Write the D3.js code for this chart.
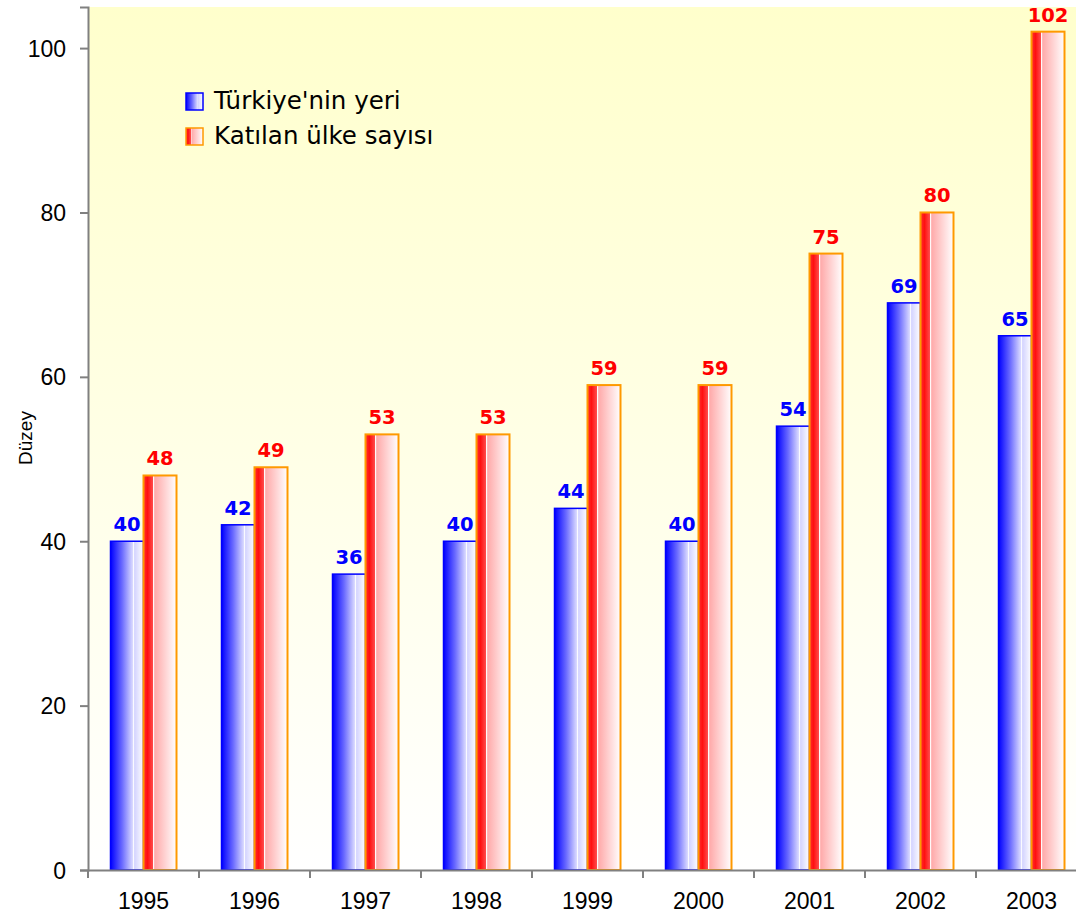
<!DOCTYPE html>
<html>
<head>
<meta charset="utf-8">
<script src="https://cdn.jsdelivr.net/npm/d3@7"></script>
<style>
  body { margin: 0; background: #fff; }
  svg { display: block; }
</style>
</head>
<body>
<div id="app"></div>
<script>
const years = ['1995', '1996', '1997', '1998', '1999', '2000', '2001', '2002', '2003'];
const turkeyRank = [40, 42, 36, 40, 44, 40, 54, 69, 65];
const countryCount = [48, 49, 53, 53, 59, 59, 75, 80, 102];
const seriesNames = ["Türkiye'nin yeri", 'Katılan ülke sayısı'];
const yTicks = [0, 20, 40, 60, 80, 100];

const width = 1076;
const height = 914;
const margin = { top: 7, left: 88, bottom: 44 };
const plotRight = 1087;

const svg = d3.select('#app').append('svg')
  .attr('width', width)
  .attr('height', height);

const defs = svg.append('defs');

const bg = defs.append('linearGradient')
  .attr('id', 'bg').attr('x1', 0).attr('y1', 0).attr('x2', 0).attr('y2', 1);
bg.append('stop').attr('offset', 0).attr('stop-color', '#ffffcc');
bg.append('stop').attr('offset', 1).attr('stop-color', '#ffffff');

const addBarGradient = (id, stops) => {
  const g = defs.append('linearGradient')
    .attr('id', id).attr('x1', 0).attr('y1', 0).attr('x2', 1).attr('y2', 0);
  stops.forEach(([o, c]) => g.append('stop').attr('offset', o).attr('stop-color', c));
};

addBarGradient('blueFill', [
  [0, '#0000ff'], [0.35, '#6a6aff'], [0.68, '#dcdcff'],
  [0.70, '#ffffff'], [0.73, '#d4d4ff'], [1, '#ffffff']
]);
addBarGradient('redFill', [
  [0, '#ff3030'], [0.12, '#ff1010'], [0.28, '#ff4a4a'],
  [0.30, '#ffffff'], [0.34, '#ffaaaa'], [1, '#ffffff']
]);

const y = d3.scaleLinear()
  .domain([0, 105])
  .range([height - margin.bottom, margin.top]);

const x = d3.scaleBand()
  .domain(years)
  .range([margin.left, plotRight]);

const barW = 33;

// plot area background
svg.append('rect')
  .attr('x', margin.left)
  .attr('y', margin.top)
  .attr('width', plotRight - margin.left)
  .attr('height', y(0) - margin.top)
  .attr('fill', 'url(#bg)');

const rows = years.map((yr, i) => ({ yr, a: turkeyRank[i], b: countryCount[i] }));

const groups = svg.append('g').selectAll('g')
  .data(rows)
  .enter().append('g')
  .attr('transform', d => `translate(${x(d.yr) + x.bandwidth() / 2},0)`);

groups.append('rect')
  .attr('x', -barW)
  .attr('y', d => y(d.a))
  .attr('width', barW)
  .attr('height', d => y(0) - y(d.a))
  .attr('fill', 'url(#blueFill)')
  .attr('stroke', '#0000ff')
  .attr('stroke-width', 1.5);

groups.append('rect')
  .attr('x', 0)
  .attr('y', d => y(d.b))
  .attr('width', barW)
  .attr('height', d => y(0) - y(d.b))
  .attr('fill', 'url(#redFill)')
  .attr('stroke', '#ff9900')
  .attr('stroke-width', 2);

const labelFont = 'DejaVu Sans, Verdana, sans-serif';

groups.append('text')
  .attr('x', -barW / 2)
  .attr('y', d => y(d.a) - 10)
  .attr('text-anchor', 'middle')
  .attr('font-family', labelFont)
  .attr('font-weight', 'bold')
  .attr('font-size', 19.5)
  .attr('fill', '#0000ff')
  .text(d => d.a);

groups.append('text')
  .attr('x', barW / 2)
  .attr('y', d => y(d.b) - 10)
  .attr('text-anchor', 'middle')
  .attr('font-family', labelFont)
  .attr('font-weight', 'bold')
  .attr('font-size', 19.5)
  .attr('fill', '#ff0000')
  .text(d => d.b);

// axes
const axisColor = '#808080';
const axisFont = 'Liberation Sans, Arial, sans-serif';

const yAxis = svg.append('g')
  .attr('transform', `translate(${margin.left},0)`)
  .call(d3.axisLeft(y).tickValues(yTicks).tickSize(8).tickPadding(14));

const xAxis = svg.append('g')
  .attr('transform', `translate(0,${y(0)})`)
  .call(d3.axisBottom(x).tickSize(0).tickPadding(23));

xAxis.selectAll('.tick line').remove();
xAxis.selectAll('.tick')
  .data(years)
  .append('line')
  .attr('x1', -x.bandwidth() / 2).attr('x2', -x.bandwidth() / 2)
  .attr('y1', 0).attr('y2', 8);

[yAxis, xAxis].forEach(ax => {
  ax.attr('font-size', null).attr('font-family', null);
  ax.select('.domain').attr('stroke', axisColor).attr('stroke-width', 2);
  ax.selectAll('.tick line').attr('stroke', axisColor).attr('stroke-width', 2);
  ax.selectAll('.tick text')
    .style('font-family', axisFont)
    .style('font-size', '23px')
    .attr('fill', '#000');
});
yAxis.selectAll('.tick text').attr('dy', '0.35em');

svg.append('text')
  .attr('transform', `translate(32,438) rotate(-90)`)
  .attr('text-anchor', 'middle')
  .style('font-family', axisFont)
  .style('font-size', '19px')
  .text('Düzey');

// legend
const legend = svg.append('g').attr('transform', 'translate(186,93)');
const legendFills = [['url(#blueFill)', '#0000ff'], ['url(#redFill)', '#ff9900']];

seriesNames.forEach((name, i) => {
  const row = legend.append('g').attr('transform', `translate(0,${i * 35})`);
  row.append('rect')
    .attr('width', 17).attr('height', 17)
    .attr('fill', legendFills[i][0])
    .attr('stroke', legendFills[i][1])
    .attr('stroke-width', 1.5);
  row.append('text')
    .attr('x', 28).attr('y', 16)
    .style('font-family', labelFont)
    .style('font-size', '24.5px')
    .attr('fill', '#000')
    .text(name);
});
</script>
</body>
</html>
